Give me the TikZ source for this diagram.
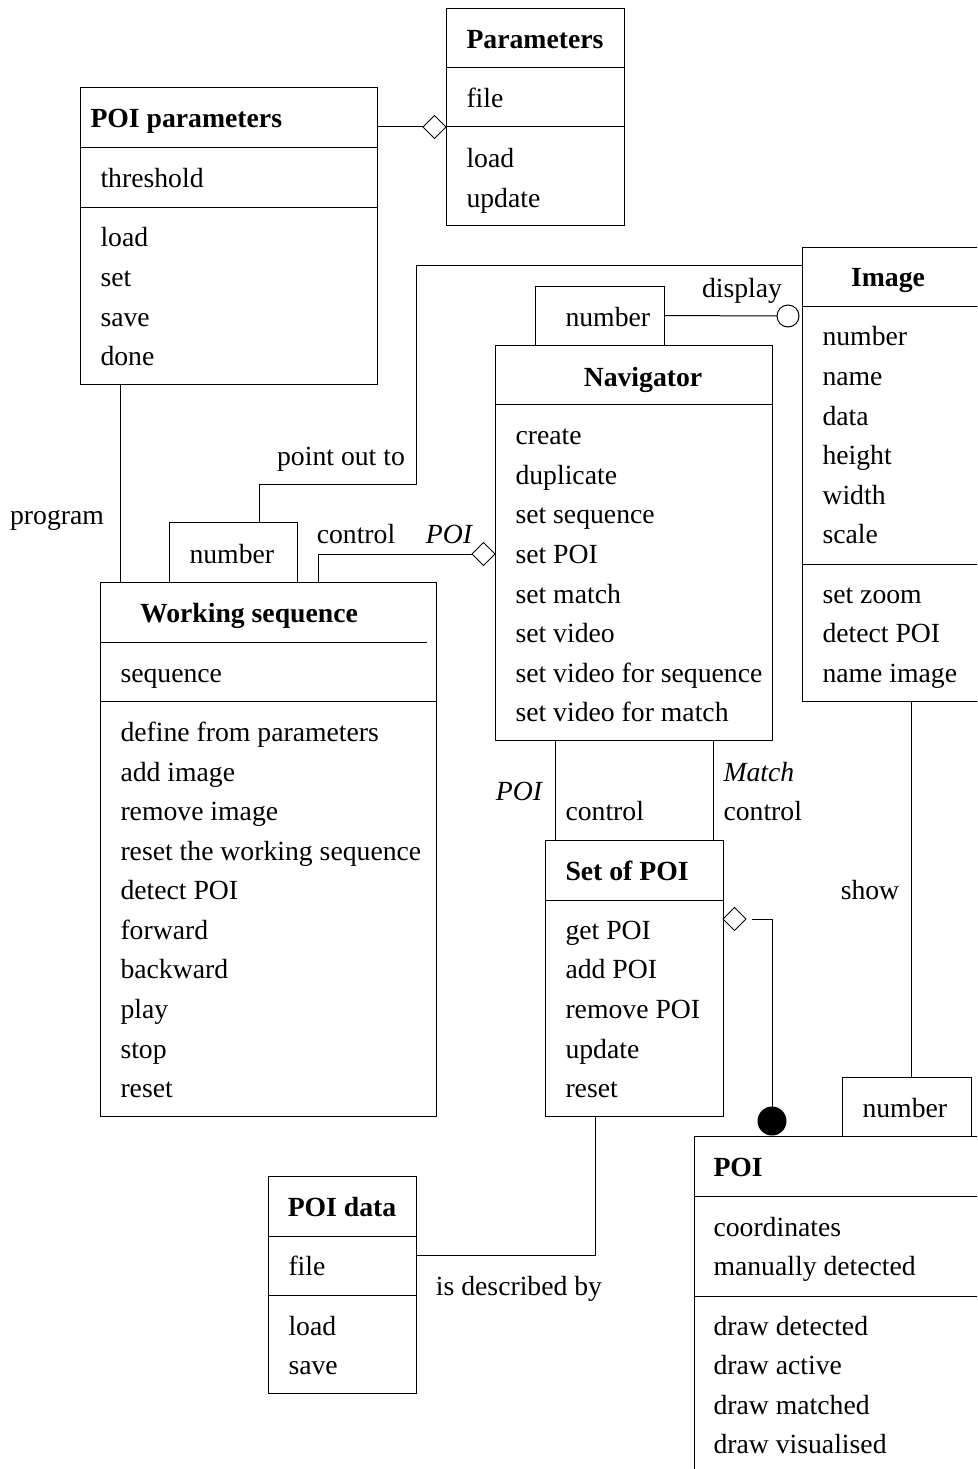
\documentclass[tikz,border=0pt]{standalone}
\usepackage{fontspec}
\setmainfont{Liberation Serif}
\usetikzlibrary{calc,shapes.geometric}
\newcommand\fsz{\fontsize{27.7}{33}\selectfont}
\begin{document}
\begin{tikzpicture}[x=1pt,y=-1pt,line width=1pt,
  classbox/.style={draw,anchor=north west,inner sep=0pt,outer sep=0pt},
  txt/.style={anchor=base west,inner sep=0pt,font=\fsz},
  ctxt/.style={anchor=base,inner sep=0pt,font=\fsz},
  ttl/.style={anchor=base,inner sep=0pt,font=\fsz\bfseries},
  lttl/.style={anchor=base west,inner sep=0pt,font=\fsz\bfseries},
  itl/.style={anchor=base,inner sep=0pt,font=\fsz\itshape},
  agg/.style={diamond,draw,fill=white,aspect=1,minimum width=23pt,minimum height=23pt,inner sep=0pt,outer sep=0pt},
  opn/.style={circle,draw,fill=white,minimum size=22pt,inner sep=0pt,outer sep=0pt},
  dot/.style={circle,fill=black,minimum size=29pt,inner sep=0pt,outer sep=0pt}]
\useasboundingbox (0,0) rectangle (977,1469);
\clip (0,0) rectangle (977,1469);

% Parameters
\node[classbox,minimum width=178pt,minimum height=216pt] (params) at (446,9) {};
\draw (446,68) -- (624,68);
\draw (446,127) -- (624,127);
\node[ttl] (paramsT) at (535,49) {Parameters};
\node[txt] (paramsA1) at (466,108) {file};
\node[txt] (paramsO1) at (466,167) {load};
\node[txt] (paramsO2) at (466,207) {update};

% POI parameters
\node[classbox,minimum width=297pt,minimum height=296pt] (poip) at (80,88) {};
\draw (80,147) -- (377,147);
\draw (80,207) -- (377,207);
\node[lttl] (poipT) at (90,128) {POI parameters};
\node[txt] (poipA1) at (100,187) {threshold};
\node[txt] (poipO1) at (100,246) {load};
\node[txt] (poipO2) at (100,286) {set};
\node[txt] (poipO3) at (100,326) {save};
\node[txt] (poipO4) at (100,365) {done};

% aggregation POI parameters -> Parameters
\node[agg,anchor=east] (d1) at ($(params.north west)+(0,118)$) {};
\draw (d1.west) -- (poip.east |- d1.west);

% Image
\node[classbox,minimum width=220pt,minimum height=454pt] (img) at (802,247) {};
\draw (802,306) -- (1022,306);
\draw (802,564) -- (1022,564);
\node[ttl] (imgT) at (888,286) {Image};
\node[txt] (imgA1) at (822,345) {number};
\node[txt] (imgA2) at (822,385) {name};
\node[txt] (imgA3) at (822,425) {data};
\node[txt] (imgA4) at (822,464) {height};
\node[txt] (imgA5) at (822,504) {width};
\node[txt] (imgA6) at (822,543) {scale};
\node[txt] (imgO1) at (822,603) {set zoom};
\node[txt] (imgO2) at (822,642) {detect POI};
\node[txt] (imgO3) at (822,682) {name image};

% Navigator
\node[classbox,minimum width=277pt,minimum height=395pt] (nav) at (495,345) {};
\draw (495,404) -- (772,404);
\node[ttl] (navT) at (643,386) {Navigator};
\node[txt] (navO1) at (515,444) {create};
\node[txt] (navO2) at (515,484) {duplicate};
\node[txt] (navO3) at (515,523) {set sequence};
\node[txt] (navO4) at (515,563) {set POI};
\node[txt] (navO5) at (515,603) {set match};
\node[txt] (navO6) at (515,642) {set video};
\node[txt] (navO7) at (515,682) {set video for sequence};
\node[txt] (navO8) at (515,721) {set video for match};

% Navigator qualifier
\node[classbox,minimum width=129pt,minimum height=59pt] (navnum) at (535,286) {};
\node[txt] (navnumT) at (565,326) {number};

% display connector
\node[opn] (c1) at (788,316) {};
\draw (navnum.east) -- (c1.west);
\node[ctxt] (lblDisplay) at (742,297) {display};

% Working sequence
\node[classbox,minimum width=336pt,minimum height=534pt] (ws) at (100,582) {};
\draw (100,642) -- (427,642);
\draw (100,701) -- (436,701);
\node[ttl] (wsT) at (249,622) {Working sequence};
\node[txt] (wsA1) at (120,682) {sequence};
\node[txt] (wsO1) at (120,741) {define from parameters};
\node[txt] (wsO2) at (120,781) {add image};
\node[txt] (wsO3) at (120,820) {remove image};
\node[txt] (wsO4) at (120,860) {reset the working sequence};
\node[txt] (wsO5) at (120,899) {detect POI};
\node[txt] (wsO6) at (120,939) {forward};
\node[txt] (wsO7) at (120,978) {backward};
\node[txt] (wsO8) at (120,1018) {play};
\node[txt] (wsO9) at (120,1058) {stop};
\node[txt] (wsO10) at (120,1097) {reset};

% Working sequence qualifier
\node[classbox,minimum width=128pt,minimum height=60pt] (wsnum) at (169,522) {};
\node[txt] (wsnumT) at (189,563) {number};

% point out to
\draw ($(wsnum.north west)+(90,0)$) -- ++(0,-38) -| ++(157,-219) -- ($(img.north west)+(0,18)$);
\node[ctxt] (lblPoint) at (341,465) {point out to};

% program
\draw ($(poip.south west)+(40,0)$) -- ($(ws.north west)+(20,0)$);
\node[ctxt] (lblProgram) at (57,524) {program};

% control (Working sequence -> Navigator)
\node[agg,anchor=east] (d2) at ($(nav.north west)+(0,209)$) {};
\draw ($(ws.north west)+(218,0)$) |- (d2.west);
\node[ctxt] (lblControl1) at (356,543) {control};
\node[itl] (lblPOI1) at (449,543) {POI};

% Set of POI
\node[classbox,minimum width=178pt,minimum height=276pt] (setpoi) at (545,840) {};
\draw (545,900) -- (723,900);
\node[lttl] (setpoiT) at (565,880) {Set of POI};
\node[txt] (setpoiO1) at (565,939) {get POI};
\node[txt] (setpoiO2) at (565,978) {add POI};
\node[txt] (setpoiO3) at (565,1018) {remove POI};
\node[txt] (setpoiO4) at (565,1058) {update};
\node[txt] (setpoiO5) at (565,1097) {reset};

% Navigator -> Set of POI
\draw ($(nav.south west)+(60,0)$) -- ($(setpoi.north west)+(10,0)$);
\draw ($(nav.south west)+(218,0)$) -- ($(setpoi.north west)+(168,0)$);
\node[itl] (lblPOI2) at (519,800) {POI};
\node[txt] (lblControl2) at (565,820) {control};
\node[txt,font=\fsz\itshape] (lblMatch) at (723,781) {Match};
\node[txt] (lblControl3) at (723,820) {control};

% POI
\node[classbox,minimum width=320pt,minimum height=400pt] (poi) at (694,1136) {};
\draw (694,1196) -- (1014,1196);
\draw (694,1296) -- (1014,1296);
\node[lttl] (poiT) at (713,1176) {POI};
\node[txt] (poiA1) at (713,1236) {coordinates};
\node[txt] (poiA2) at (713,1275) {manually detected};
\node[txt] (poiO1) at (713,1335) {draw detected};
\node[txt] (poiO2) at (713,1374) {draw active};
\node[txt] (poiO3) at (713,1414) {draw matched};
\node[txt] (poiO4) at (713,1453) {draw visualised};

% POI qualifier
\node[classbox,minimum width=129pt,minimum height=59pt,fill=white] (poinum) at (842,1077) {};
\node[txt] (poinumT) at (862,1117) {number};

% composition Set of POI -> POI
\node[agg,anchor=west] (d3) at ($(setpoi.north east)+(0,79)$) {};
\node[dot] (fc) at ($(poi.north west)+(78,-15)$) {};
\draw ($(d3.east)+(6,0)$) -| (fc.north);

% show
\draw ($(img.south west)+(109,0)$) -- ($(poinum.north west)+(69,0)$);
\node[ctxt] (lblShow) at (870,899) {show};

% POI data
\node[classbox,minimum width=148pt,minimum height=217pt] (poidata) at (268,1176) {};
\draw (268,1236) -- (416,1236);
\draw (268,1295) -- (416,1295);
\node[ttl] (poidataT) at (342,1216) {POI data};
\node[txt] (poidataA1) at (288,1275) {file};
\node[txt] (poidataO1) at (288,1335) {load};
\node[txt] (poidataO2) at (288,1374) {save};

% is described by
\draw ($(setpoi.south west)+(50,0)$) |- ($(poidata.north east)+(0,79)$);
\node[ctxt] (lblDescribed) at (519,1295) {is described by};
\end{tikzpicture}
\end{document}
